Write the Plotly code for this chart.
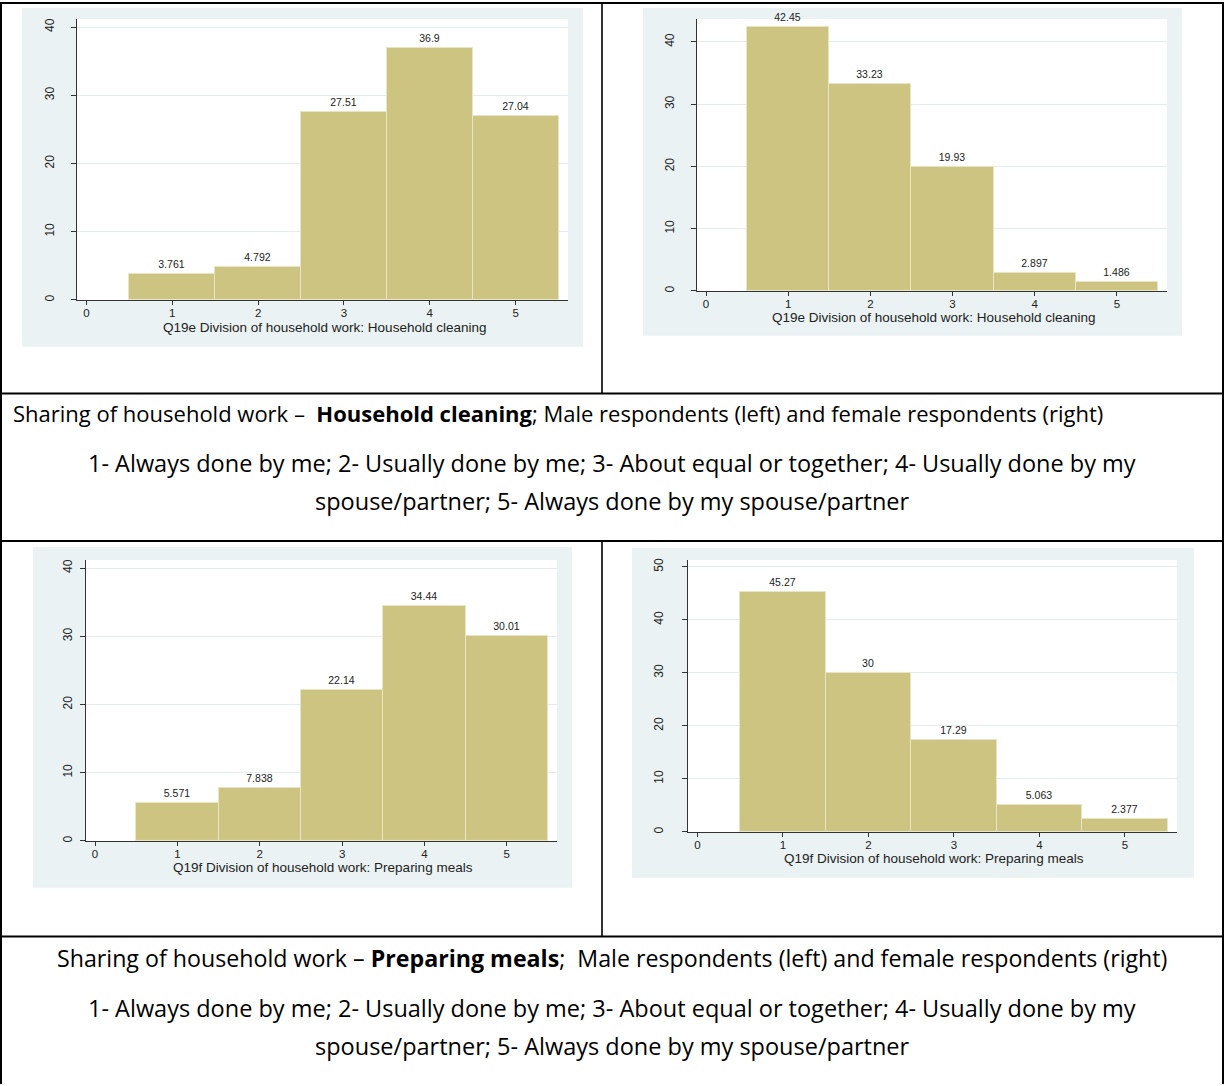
import plotly.graph_objects as go

# ---------------- data ----------------
categories = [1, 2, 3, 4, 5]
male_cleaning = [3.761, 4.792, 27.51, 36.9, 27.04]
female_cleaning = [42.45, 33.23, 19.93, 2.897, 1.486]
male_meals = [5.571, 7.838, 22.14, 34.44, 30.01]
female_meals = [45.27, 30, 17.29, 5.063, 2.377]
x_ticks = [0, 1, 2, 3, 4, 5]
y_ticks_40 = [0, 10, 20, 30, 40]
y_ticks_50 = [0, 10, 20, 30, 40, 50]
title_cleaning = "Q19e Division of household work: Household cleaning"
title_meals = "Q19f Division of household work: Preparing meals"

caption_cleaning = ("Sharing of household work –\u00a0 <b>Household cleaning</b>; "
                    "Male respondents (left) and female respondents (right)")
caption_meals = ("Sharing of household work – <b>Preparing meals</b>;\u00a0 "
                 "Male respondents (left) and female respondents (right)")
legend_line1 = ("1- Always done by me; 2- Usually done by me; 3- About equal or together; "
                "4- Usually done by my")
legend_line2 = "spouse/partner; 5- Always done by my spouse/partner"

# ---------------- layout geometry (pixels) ----------------
W, H = 1224, 1086
BAR = "#CDC481"
BAR_EDGE = "#E9E6C6"
PANEL = "#EAF2F3"
GRID = "#E3ECEE"
AX = "#333333"
CH_FONT = "Liberation Sans, Arial, sans-serif"
CAP_FONT = "Open Sans, sans-serif"

def X(p):
    return p / W

def Y(p):
    return 1 - p / H

charts = [
    dict(vals=male_cleaning, panel=(22, 6, 583, 346), plot=(77, 17, 568, 299), ymax=41.2,
         yt=y_ticks_40, title=title_cleaning, txy=(324, 327), so=12),
    dict(vals=female_cleaning, panel=(643, 6, 1182, 335), plot=(697, 17, 1167, 290), ymax=43.7,
         yt=y_ticks_40, title=title_cleaning, txy=(933, 317), so=12),
    dict(vals=male_meals, panel=(33, 547, 572, 889), plot=(86, 560, 557, 842), ymax=41.2,
         yt=y_ticks_40, title=title_meals, txy=(323, 869), so=3),
    dict(vals=female_meals, panel=(632, 548, 1194, 879), plot=(688, 560, 1177, 833), ymax=51.3,
         yt=y_ticks_50, title=title_meals, txy=(934, 860), so=14),
]

fig = go.Figure()
shapes = []
annotations = []

for i, c in enumerate(charts):
    n = "" if i == 0 else str(i + 1)
    px0, py0, px1, py1 = c["plot"]
    fig.add_trace(go.Bar(
        x=categories, y=c["vals"], width=1,
        marker=dict(color=BAR, line=dict(color=BAR_EDGE, width=1)),
        texttemplate="%{y}", textposition="outside", constraintext="none",
        textfont=dict(family=CH_FONT, size=10.5, color="#222"),
        cliponaxis=False, showlegend=False, hoverinfo="x+y",
        xaxis="x" + n, yaxis="y" + n,
    ))
    fig.layout["xaxis" + n] = dict(
        domain=[X(px0), X(px1)], range=[-0.11, 5.61], anchor="y" + n,
        tickvals=x_ticks, ticktext=[str(t) for t in x_ticks],
        showline=True, linecolor=AX, linewidth=1, ticks="outside", ticklen=4,
        ticklabelstandoff=-2,
        tickcolor=AX, showgrid=False, zeroline=False,
        tickfont=dict(family=CH_FONT, size=11.5, color="#222"),
    )
    fig.layout["yaxis" + n] = dict(
        domain=[Y(py1), Y(py0)], range=[0, c["ymax"]], anchor="x" + n,
        tickvals=c["yt"], showline=True, linecolor=AX, linewidth=1,
        ticks="outside", ticklen=5, tickcolor=AX, tickangle=-90,
        ticklabelstandoff=c["so"],
        showgrid=True, gridcolor=GRID, gridwidth=1, zeroline=False,
        tickfont=dict(family=CH_FONT, size=12, color="#222"),
    )
    gx0, gy0, gx1, gy1 = c["panel"]
    shapes.append(dict(type="rect", xref="paper", yref="paper", layer="below",
                       x0=X(gx0), x1=X(gx1), y0=Y(gy1), y1=Y(gy0),
                       fillcolor=PANEL, line=dict(width=0)))
    shapes.append(dict(type="rect", xref="paper", yref="paper", layer="below",
                       x0=X(px0), x1=X(px1), y0=Y(py1), y1=Y(py0),
                       fillcolor="white", line=dict(width=0)))
    tx, ty = c["txy"]
    annotations.append(dict(text=c["title"], x=X(tx), y=Y(ty), xref="paper", yref="paper",
                            showarrow=False, xanchor="center", yanchor="middle",
                            font=dict(family=CH_FONT, size=13.5, color="#222")))

# table lines
def hline(py, x0=0, x1=W):
    return dict(type="line", xref="paper", yref="paper", x0=X(x0), x1=X(x1),
                y0=Y(py), y1=Y(py), line=dict(color="black", width=2), layer="above")

def vline(px, y0, y1, w=2):
    return dict(type="line", xref="paper", yref="paper", x0=X(px), x1=X(px),
                y0=Y(y0), y1=Y(y1), line=dict(color="black", width=w), layer="above")

shapes += [hline(1), hline(393), hline(541), hline(938),
           vline(1, 0, H), vline(1223, 0, H),
           vline(602, 0, 393, 1.6), vline(602, 541, 938, 1.6)]

# captions
def cap(text, px, py, size, anchor="center"):
    return dict(text=text, x=X(px), y=Y(py), xref="paper", yref="paper", showarrow=False,
                xanchor=anchor, yanchor="middle",
                font=dict(family=CAP_FONT, size=size, color="black"))

annotations += [
    cap(caption_cleaning, 11, 413, 22, "left"),
    cap(legend_line1, 612, 463, 23.5),
    cap(legend_line2, 612, 501, 23.5),
    cap(caption_meals, 612, 960, 23.2),
    cap(legend_line1, 612, 1010, 23.5),
    cap(legend_line2, 612, 1048, 23.5),
]

fig.update_layout(
    width=W, height=H, margin=dict(l=0, r=0, t=0, b=0),
    paper_bgcolor="white", plot_bgcolor="rgba(0,0,0,0)",
    bargap=0, shapes=shapes, annotations=annotations,
    showlegend=False,
)

fig.write_html("out.html", config={"displayModeBar": False},
               post_script="document.body.style.margin='0px';document.body.style.overflow='hidden';")
